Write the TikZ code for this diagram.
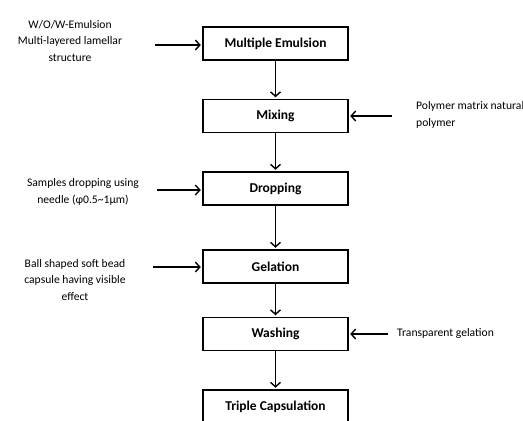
\documentclass[tikz,border=0pt]{standalone}
\usepackage{fontspec}
\setmainfont{Carlito}
\usetikzlibrary{arrows.meta}
\begin{document}
\begin{tikzpicture}[x=1pt,y=-1pt,
  box/.style={draw,line width=1.5pt,minimum width=145pt,minimum height=33pt,inner sep=0pt,font=\fontsize{13.5}{15}\selectfont\bfseries},
  side/.style={font=\fontsize{11.6}{16.5}\selectfont,align=center,inner sep=0pt},
  sideL/.style={side,align=left},
  arr/.style={line width=1.4pt,-{Straight Barb[length=4.5pt,width=10pt]},shorten >=1.5pt}]
\useasboundingbox (0,0) rectangle (523,421);
\clip (0,0) rectangle (523,421);
\fill[white] (0,0) rectangle (523,421);
\node[box] (b1) at (275.5,43.5) {Multiple Emulsion};
\node[box] (b2) at (275.5,116) {Mixing};
\node[box] (b3) at (275.5,188.5) {Dropping};
\node[box] (b4) at (275.5,266.5) {Gelation};
\node[box] (b5) at (275.5,334) {Washing};
\node[box] (b6) at (275.5,406.5) {Triple Capsulation};
\foreach \a/\b in {b1/b2,b2/b3,b3/b4,b4/b5,b5/b6}
  \draw[arr] (\a.south) -- (\b.north);
\node[side] (t1) at (70,41) {W/O/W-Emulsion\\Multi-layered lamellar\\structure};
\node[sideL,anchor=west] (t2) at (416,115) {Polymer matrix natural\\polymer};
\node[side] (t3) at (83,192) {Samples dropping using\\needle (φ0.5\textasciitilde1μm)};
\node[side] (t4) at (75,280) {Ball shaped soft bead\\capsule having visible\\effect};
\node[sideL,anchor=west] (t5) at (397,333) {Transparent gelation};
\coordinate (a1) at (155,45);
\coordinate (a2) at (392,116);
\coordinate (a3) at (157,190);
\coordinate (a4) at (153,267);
\coordinate (a5) at (388,334);
\draw[arr] (a1) -- (b1.west |- a1);
\draw[arr] (a2) -- (b2.east |- a2);
\draw[arr] (a3) -- (b3.west |- a3);
\draw[arr] (a4) -- (b4.west |- a4);
\draw[arr] (a5) -- (b5.east |- a5);
\end{tikzpicture}
\end{document}
